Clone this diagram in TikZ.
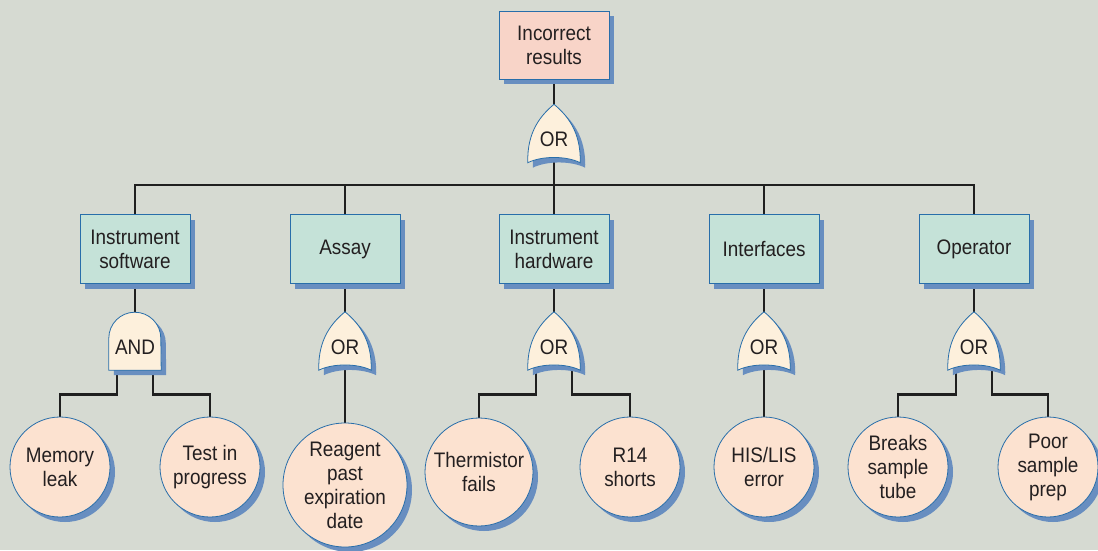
\documentclass[tikz,border=0pt]{standalone}
\usepackage{fontspec}
\setmainfont[FakeStretch=0.9]{Liberation Sans}
\usetikzlibrary{shadows}

\definecolor{paper}{RGB}{214,218,210}
\definecolor{ink}{RGB}{35,31,32}
\definecolor{edgeblue}{RGB}{40,110,170}
\definecolor{shadowblue}{RGB}{104,142,192}
\definecolor{toppink}{RGB}{248,212,200}
\definecolor{boxteal}{RGB}{197,226,216}
\definecolor{eventpeach}{RGB}{252,226,208}
\definecolor{gatecream}{RGB}{253,240,220}

\pgfdeclarelayer{wires}
\pgfdeclarelayer{gates}
\pgfsetlayers{wires,gates,main}

% gate outlines, drawn under the gate label
\newcommand{\orgate}[1]{%
  \begin{pgfonlayer}{gates}
    \path[gateshape] ([yshift=12pt]#1.north) .. controls +(-12,10) and +(-1,-32) .. (#1.south west)
      .. controls +(14,-7) and +(-14,-7) .. (#1.south east)
      .. controls +(1,-32) and +(12,10) .. ([yshift=12pt]#1.north) -- cycle;
  \end{pgfonlayer}}
\newcommand{\andgate}[1]{%
  \begin{pgfonlayer}{gates}
    \path[gateshape] (#1.south west) -- ++(0,-32) arc[start angle=180, end angle=0, radius=26pt]
      -- (#1.south east) -- cycle;
  \end{pgfonlayer}}

\begin{document}
\begin{tikzpicture}[x=1pt, y=-1pt, font=\fontsize{21}{24}\selectfont, text=ink]
    \tikzstyle{castshadow}=[drop shadow={shadow xshift=5pt, shadow yshift=-5pt, fill=shadowblue, opacity=1}]
    \tikzstyle{topevent}=[draw=edgeblue, line width=0.8pt, fill=toppink, minimum width=110, minimum height=68, align=center, castshadow]
    \tikzstyle{category}=[draw=edgeblue, line width=0.8pt, fill=boxteal, minimum width=110, minimum height=69, align=center, castshadow]
    \tikzstyle{event}=[circle, draw=edgeblue, line width=0.8pt, fill=eventpeach, minimum size=100, inner sep=0, align=center, castshadow]
    \tikzstyle{gate}=[minimum width=52, minimum height=46, inner sep=0]
    \tikzstyle{gateshape}=[draw=edgeblue, line width=0.8pt, fill=gatecream, preaction={fill=shadowblue, transform canvas={xshift=5pt, yshift=-5pt}}]
    \tikzstyle{wire}=[line width=2.8pt, draw=black!88]

    \useasboundingbox (0,0) rectangle (1098,550);

    % top event and its gate
    \node[topevent] (top) at (554,45) {Incorrect\\results};
    \node[gate] (g0) at (554,139.5) {OR};
    \orgate{g0}
    \coordinate (bar) at (554,185);

    % second level
    \node[category] (sw) at (135,249) {Instrument\\software};
    \node[category] (as) at (345,249) {Assay};
    \node[category] (ih) at (554,249) {Instrument\\hardware};
    \node[category] (if) at (764,249) {Interfaces};
    \node[category] (op) at (974,249) {Operator};

    \node[gate] (g1) at (135,347) {AND};
    \node[gate] (g2) at (345,347) {OR};
    \node[gate] (g3) at (554,347) {OR};
    \node[gate] (g4) at (764,347) {OR};
    \node[gate] (g5) at (974,347) {OR};
    \andgate{g1}
    \orgate{g2}
    \orgate{g3}
    \orgate{g4}
    \orgate{g5}

    % basic events
    \node[event] (ml) at (60,467) {Memory\\leak};
    \node[event] (tp) at (210,467) {Test in\\progress};
    \node[event, minimum size=124] (rp) at (345,485) {Reagent\\past\\expiration\\date};
    \node[event, minimum size=108] (th) at (479,472) {Thermistor\\fails};
    \node[event] (rs) at (630,467) {R14\\shorts};
    \node[event] (hl) at (764,467) {HIS/LIS\\error};
    \node[event] (bs) at (898,467) {Breaks\\sample\\tube};
    \node[event] (ps) at (1048,467) {Poor\\sample\\prep};

    % connectors
    \begin{pgfonlayer}{wires}
      \fill[paper] (0,0) rectangle (1098,550);
      \draw[wire] (top.south) -- (g0.north);
      \draw[wire] ([yshift=6pt]g0.south) -- (bar);
      \draw[wire] (sw.north) |- (bar) -| (op.north);
      \foreach \cat in {as, ih, if}
        \draw[wire] (\cat.north) -- (\cat.north |- bar);
      \foreach \cat/\g in {sw/g1, as/g2, ih/g3, if/g4, op/g5}
        \draw[wire] (\cat.south) -- (\g.north);
      \draw[wire] ([xshift=-18pt, yshift=6pt]g1.south) -- ++(0,30) -| (ml.north);
      \draw[wire] ([xshift=18pt, yshift=6pt]g1.south) -- ++(0,30) -| (tp.north);
      \draw[wire] ([yshift=6pt]g2.south) -- (rp.north);
      \draw[wire] ([xshift=-18pt, yshift=6pt]g3.south) -- ++(0,30) -| (th.north);
      \draw[wire] ([xshift=18pt, yshift=6pt]g3.south) -- ++(0,30) -| (rs.north);
      \draw[wire] ([yshift=6pt]g4.south) -- (hl.north);
      \draw[wire] ([xshift=-18pt, yshift=6pt]g5.south) -- ++(0,30) -| (bs.north);
      \draw[wire] ([xshift=18pt, yshift=6pt]g5.south) -- ++(0,30) -| (ps.north);
    \end{pgfonlayer}
\end{tikzpicture}
\end{document}
